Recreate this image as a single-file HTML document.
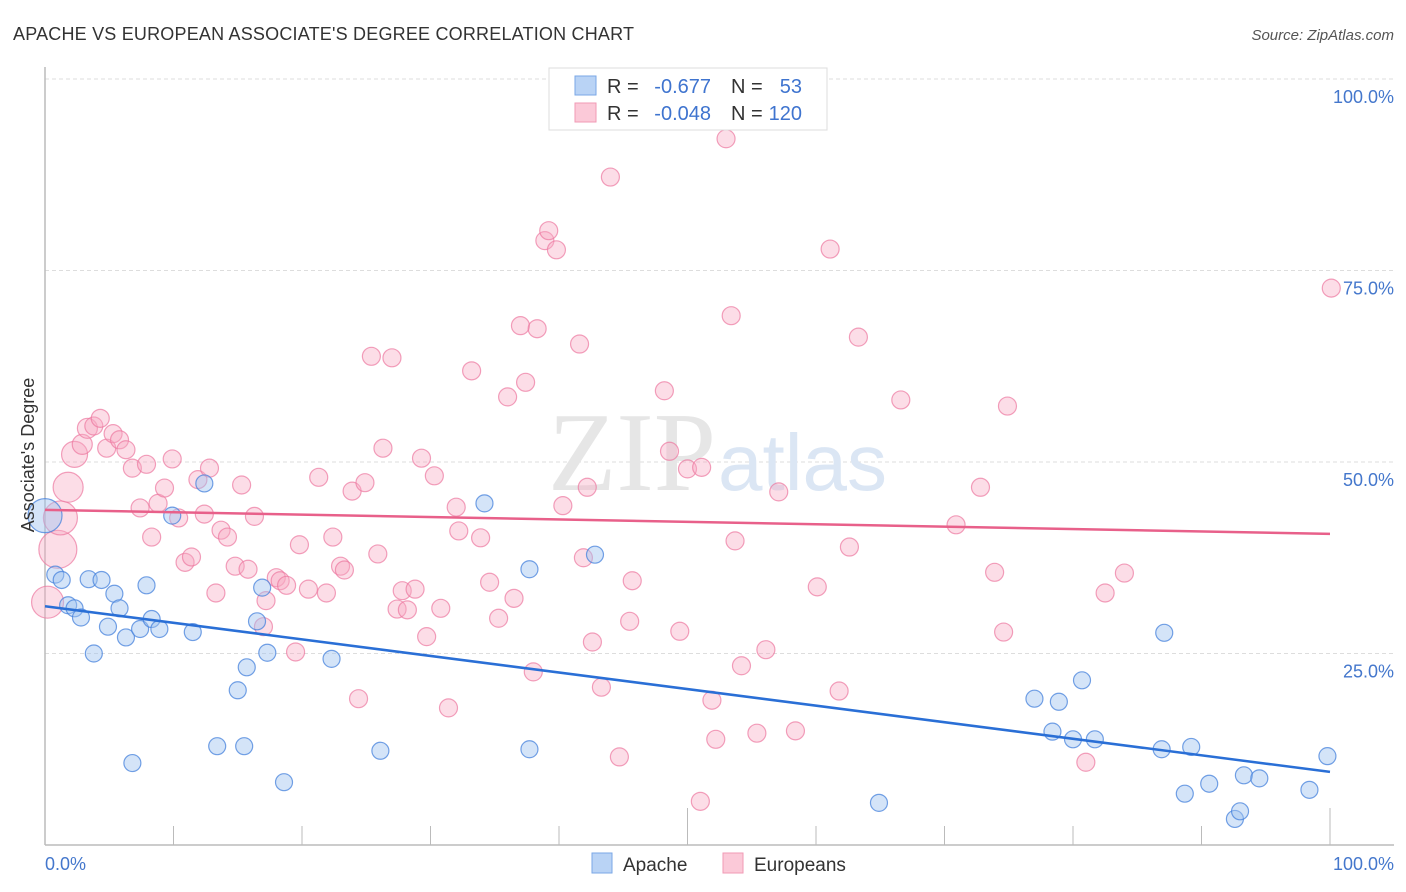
<!DOCTYPE html>
<html><head><meta charset="utf-8"><style>
body{margin:0;background:#fff;font-family:"Liberation Sans",sans-serif;}
svg{display:block}
</style></head><body>
<svg id="chart" width="1406" height="892">
<text x="13" y="40" font-size="18" fill="#333" textLength="621">APACHE VS EUROPEAN ASSOCIATE'S DEGREE CORRELATION CHART</text>
<text x="1394" y="40" font-size="15" fill="#555" font-style="italic" text-anchor="end">Source: ZipAtlas.com</text>
<g id="grid"></g>
<text x="716" y="490" font-size="112" fill="#e6e6e6" font-family="Liberation Serif,serif" text-anchor="end">ZIP</text>
<text x="718" y="490" font-size="80" fill="#dbe6f4" text-anchor="start">atlas</text>
<g id="pts"></g>
<g id="lines"></g>
<text transform="translate(34,455) rotate(-90)" font-size="18" fill="#333" text-anchor="middle">Associate's Degree</text>
<text x="45" y="870" font-size="18" fill="#4477cc">0.0%</text>
<text x="1394" y="870" font-size="18" fill="#4477cc" text-anchor="end">100.0%</text>
<g>
<rect x="549" y="68" width="278" height="62" fill="#fff" stroke="#ddd"/>
<rect x="575" y="76" width="21" height="19" fill="#b9d3f5" stroke="#7aa7e6"/>
<rect x="575" y="103" width="21" height="19" fill="#fbc9d8" stroke="#f09ab5"/>
<g font-size="20" fill="#333">
<text x="607" y="93">R =</text><text x="711" y="93" text-anchor="end" fill="#3f74cf">-0.677</text>
<text x="731" y="93">N =</text><text x="802" y="93" text-anchor="end" fill="#3f74cf">53</text>
<text x="607" y="120">R =</text><text x="711" y="120" text-anchor="end" fill="#3f74cf">-0.048</text>
<text x="731" y="120">N =</text><text x="802" y="120" text-anchor="end" fill="#3f74cf">120</text>
</g>
</g>
<g>
<rect x="592" y="853" width="20" height="20" fill="#b9d3f5" stroke="#7aa7e6"/>
<text x="623" y="871" font-size="19" fill="#333">Apache</text>
<rect x="723" y="853" width="20" height="20" fill="#fbc9d8" stroke="#f09ab5"/>
<text x="754" y="871" font-size="19" fill="#333">Europeans</text>
</g>
</svg>
<script>
const yTicks=[25,50,75,100];
const yTickLabels=["25.0%","50.0%","75.0%","100.0%"];
const xTicks=[0,10,20,30,40,50,60,70,80,90,100];
const apacheX=[0,0.8,1.3,1.8,2.3,2.8,3.4,3.8,4.4,4.9,5.4,5.8,6.3,6.8,7.4,7.9,8.3,8.9,9.9,11.5,12.4,13.4,15.0,15.5,15.7,16.5,16.9,17.3,18.6,22.3,26.1,34.2,37.7,37.7,42.8,64.9,77.0,78.4,78.9,80.0,80.7,81.7,87.1,86.9,89.2,88.7,90.6,92.6,93.0,93.3,94.5,98.4,99.8];
const apacheY=[43,35.3,34.6,31.3,30.9,29.7,34.7,25,34.6,28.5,32.8,30.9,27.1,10.7,28.2,33.9,29.5,28.2,43,27.8,47.2,12.9,20.2,12.9,23.2,29.2,33.6,25.1,8.2,24.3,12.3,44.6,36,12.5,37.9,5.5,19.1,14.8,18.7,13.8,21.5,13.8,27.7,12.5,12.8,6.7,8,3.4,4.4,9.1,8.7,7.2,11.6];
const apacheR=[17];
const euroX=[0.2,1.0,1.2,1.8,2.3,2.9,3.3,3.8,4.3,4.8,5.3,5.8,6.3,6.8,7.4,7.9,8.3,8.8,9.3,9.9,10.4,10.9,11.4,11.9,12.4,12.8,13.3,13.7,14.2,14.8,15.3,15.8,16.3,17.0,17.2,18.0,18.3,18.8,19.5,19.8,20.5,21.3,21.9,22.4,23.0,23.3,23.9,24.4,24.9,25.4,25.9,26.3,27.0,27.4,27.8,28.2,28.8,29.3,29.7,30.3,30.8,31.4,32.0,32.2,33.2,33.9,34.6,35.3,36.0,36.5,37.0,37.4,38.0,38.3,38.9,39.2,39.8,40.3,41.6,41.9,42.2,42.6,43.3,44.0,44.7,45.5,45.7,48.2,48.6,49.4,50.0,51.0,51.1,51.9,52.2,53.0,53.4,53.7,54.2,55.4,56.1,57.1,58.4,60.1,61.1,61.8,62.6,63.3,66.6,70.9,72.8,73.9,74.6,74.9,81.0,82.5,84.0,100.1];
const euroY=[31.7,38.6,42.7,46.7,51.0,52.3,54.4,54.7,55.7,51.8,53.7,52.9,51.6,49.2,44.0,49.7,40.2,44.6,46.6,50.4,42.7,36.9,37.6,47.7,43.2,49.2,32.9,41.1,40.2,36.4,47.0,36.0,42.9,28.5,31.9,34.9,34.5,33.9,25.2,39.2,33.4,48.0,32.9,40.2,36.4,35.9,46.2,19.1,47.3,63.8,38.0,51.8,63.6,30.8,33.2,30.7,33.4,50.5,27.2,48.2,30.9,17.9,44.1,41.0,61.9,40.1,34.3,29.6,58.5,32.2,67.8,60.4,22.6,67.4,78.9,80.2,77.7,44.3,65.4,37.5,46.7,26.5,20.6,87.2,11.5,29.2,34.5,59.3,51.4,27.9,49.1,5.7,49.3,18.9,13.8,92.2,69.1,39.7,23.4,14.6,25.5,46.1,14.9,33.7,77.8,20.1,38.9,66.3,58.1,41.8,46.7,35.6,27.8,57.3,10.8,32.9,35.5,72.7];
const euroR=[16,19,17,15,13,10,10];
const L=45,R=1330,T=79,B=845;
const sx=v=>L+(R-L)*v/100, sy=v=>B-(B-T)*v/100;
const NS='http://www.w3.org/2000/svg';
const grid=document.getElementById('grid');
function mk(tag,attrs,parent){const e=document.createElementNS(NS,tag);for(const k in attrs)e.setAttribute(k,attrs[k]);parent.appendChild(e);return e;}
yTicks.forEach((t,i)=>{
 const g=mk('line',{x1:L,x2:1394,y1:sy(t),y2:sy(t),stroke:'#ddd','stroke-dasharray':'4,3'},grid);
 
 
 const tx=mk('text',{x:1394,y:sy(t)+24,'font-size':18,fill:'#4477cc','text-anchor':'end'},grid);
 tx.textContent=yTickLabels[i];
 
 
});
const ax=mk('line',{x1:L,x2:1394,y1:B,y2:B,stroke:'#bbb','stroke-width':1.5},grid);


const ay=mk('line',{x1:L,x2:L,y1:67,y2:B,stroke:'#bbb','stroke-width':1.5},grid);


xTicks.forEach(t=>{
 const big=(t===50||t===100);
 const tk=mk('line',{x1:sx(t),x2:sx(t),y1:big?808:826,y2:B,stroke:'#bbb'},grid);
 
 
});
const pts=document.getElementById('pts');
euroX.forEach((x,i)=>{
 const c=mk('circle',{cx:sx(x),cy:sy(euroY[i]),r:euroR[i]||9,fill:'rgba(248,170,195,0.4)',stroke:'rgba(236,120,160,0.7)','stroke-width':1.2},pts);
 
 
});
apacheX.forEach((x,i)=>{
 const c=mk('circle',{cx:sx(x),cy:sy(apacheY[i]),r:apacheR[i]||8.5,fill:'rgba(160,195,240,0.45)',stroke:'rgba(70,130,220,0.75)','stroke-width':1.2},pts);
 
 
});
function fit(xs,ys){const n=xs.length;let mx=0,my=0;xs.forEach((x,i)=>{mx+=x;my+=ys[i];});mx/=n;my/=n;let sxy=0,sxx=0;xs.forEach((x,i)=>{sxy+=(x-mx)*(ys[i]-my);sxx+=(x-mx)*(x-mx);});const b=sxy/sxx;return [my-b*mx,b];}
const lines=document.getElementById('lines');
const [ea,eb]=fit(euroX,euroY);
const pl=mk('line',{x1:sx(0),y1:sy(ea),x2:sx(100),y2:sy(ea+eb*100),stroke:'#e8608a','stroke-width':2.5},lines);


const [aa,ab]=fit(apacheX,apacheY);
const bl=mk('line',{x1:sx(0),y1:sy(aa),x2:sx(100),y2:sy(aa+ab*100),stroke:'#2a6fd6','stroke-width':2.5},lines);


</script>
</body></html>
